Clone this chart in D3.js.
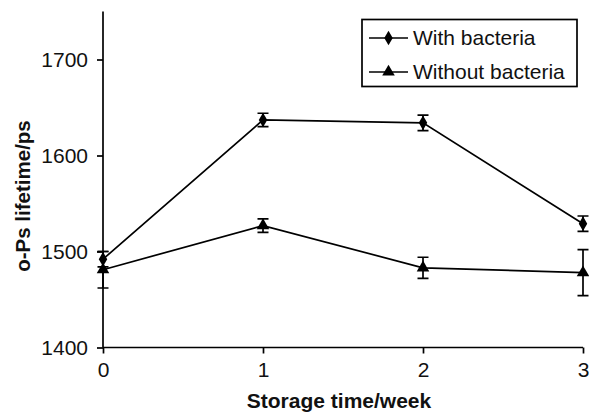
<!DOCTYPE html>
<html>
<head>
<meta charset="utf-8">
<script src="https://cdn.jsdelivr.net/npm/d3@7"></script>
<style>
  body { margin: 0; background: #fff; }
  svg { display: block; font-family: "Liberation Sans", Arial, sans-serif; }
  .axis path, .axis line { stroke: #000; stroke-width: 1.7px; }
  .axis text { font-size: 21px; fill: #111; }
</style>
</head>
<body>
<div class="chart"></div>
<script>
// weeks of storage
const weeks = [0, 1, 2, 3];
const yTicks = [1400, 1500, 1600, 1700];

// o-Ps lifetime (ps) and error bars
const withBacteria = [1492, 1637, 1634, 1529];
const withBacteriaErr = [8, 7, 8, 8];
const withoutBacteria = [1481, 1527, 1483, 1478];
const withoutBacteriaErr = [19, 7, 11, 24];

const seriesNames = ['With bacteria', 'Without bacteria'];

const width = 589, height = 414;
const margin = { top: 11.5, right: 6, bottom: 66.5, left: 103 };

const svg = d3.select('.chart')
  .append('svg')
  .attr('width', width)
  .attr('height', height);

const g = svg.append('g')
  .attr('transform', 'translate(' + margin.left + ',' + margin.top + ')');

const h = height - margin.top - margin.bottom;

// Scales
const xScale = d3.scaleLinear().domain([0, 3]).range([0, 480]);
const yScale = d3.scaleLinear().domain([1400, 1750]).range([h, 0]);

// Axis
const xaxis = d3.axisBottom(xScale).tickValues(weeks).tickFormat(d3.format('d')).tickSize(6).tickPadding(9);
const yaxis = d3.axisLeft(yScale).tickValues(yTicks).tickFormat(d3.format('d')).tickSize(6).tickPadding(9);

g.append('g')
  .attr('class', 'axis')
  .attr('transform', 'translate(0,' + h + ')')
  .call(xaxis)
  .call(s => s.select('.domain').attr('d', 'M0,0H' + xScale(3)));

g.append('g')
  .attr('class', 'axis')
  .call(yaxis)
  .call(s => s.select('.domain').attr('d', 'M0,' + h + 'V0'));

// Axis titles
svg.append('text')
  .attr('x', margin.left + xScale(1.5) - 4)
  .attr('y', 408)
  .attr('text-anchor', 'middle')
  .style('font-size', '21px')
  .style('font-weight', 'bold')
  .style('fill', '#111')
  .text('Storage time/week');

svg.append('text')
  .attr('transform', 'translate(30,' + 196 + ') rotate(-90)')
  .attr('text-anchor', 'middle')
  .style('font-size', '20.5px')
  .style('font-weight', 'bold')
  .style('fill', '#111')
  .text('o-Ps lifetime/ps');

const slices = [
  { id: seriesNames[0], shape: d3.symbolDiamond, values: weeks.map((wk, i) => ({ week: wk, value: withBacteria[i], err: withBacteriaErr[i] })) },
  { id: seriesNames[1], shape: d3.symbolTriangle, values: weeks.map((wk, i) => ({ week: wk, value: withoutBacteria[i], err: withoutBacteriaErr[i] })) }
];

const markerSize = d => d.shape === d3.symbolDiamond ? 62 : 68;

// Lines
const line = d3.line()
  .x(d => xScale(d.week))
  .y(d => yScale(d.value));

const lines = g.selectAll('.series')
  .data(slices)
  .enter()
  .append('g')
  .attr('class', 'series');

lines.append('path')
  .attr('d', d => line(d.values))
  .attr('fill', 'none')
  .attr('stroke', '#000')
  .attr('stroke-width', 1.7);

// Error bars
const capW = 5.5;
lines.each(function (s) {
  const sg = d3.select(this);
  sg.selectAll('.err')
    .data(s.values)
    .enter()
    .append('path')
    .attr('class', 'err')
    .attr('fill', 'none')
    .attr('stroke', '#000')
    .attr('stroke-width', 1.7)
    .attr('d', d => {
      const x = xScale(d.week), y0 = yScale(d.value - d.err), y1 = yScale(d.value + d.err);
      return 'M' + x + ',' + y0 + 'V' + y1 +
        'M' + (x - capW) + ',' + y0 + 'H' + (x + capW) +
        'M' + (x - capW) + ',' + y1 + 'H' + (x + capW);
    });

  sg.selectAll('.marker')
    .data(s.values)
    .enter()
    .append('path')
    .attr('class', 'marker')
    .attr('transform', d => 'translate(' + xScale(d.week) + ',' + yScale(d.value) + ')')
    .attr('d', d3.symbol().type(s.shape).size(markerSize(s)))
    .attr('fill', '#000');
});

// Legend
const legend = svg.append('g').attr('transform', 'translate(362,19.5)');
legend.append('rect')
  .attr('width', 215)
  .attr('height', 67)
  .attr('fill', '#fff')
  .attr('stroke', '#000')
  .attr('stroke-width', 1.7);

const items = legend.selectAll('.item')
  .data(slices)
  .enter()
  .append('g')
  .attr('class', 'item')
  .attr('transform', (d, i) => 'translate(0,' + (18.5 + i * 34) + ')');

items.append('line')
  .attr('x1', 7).attr('x2', 46)
  .attr('stroke', '#000')
  .attr('stroke-width', 1.7);

items.append('path')
  .attr('transform', 'translate(26.5,0)')
  .attr('d', d => d3.symbol().type(d.shape).size(markerSize(d))())
  .attr('fill', '#000');

items.append('text')
  .attr('x', 51)
  .attr('y', 7)
  .style('font-size', '21px')
  .style('fill', '#111')
  .text(d => d.id);
</script>
</body>
</html>
